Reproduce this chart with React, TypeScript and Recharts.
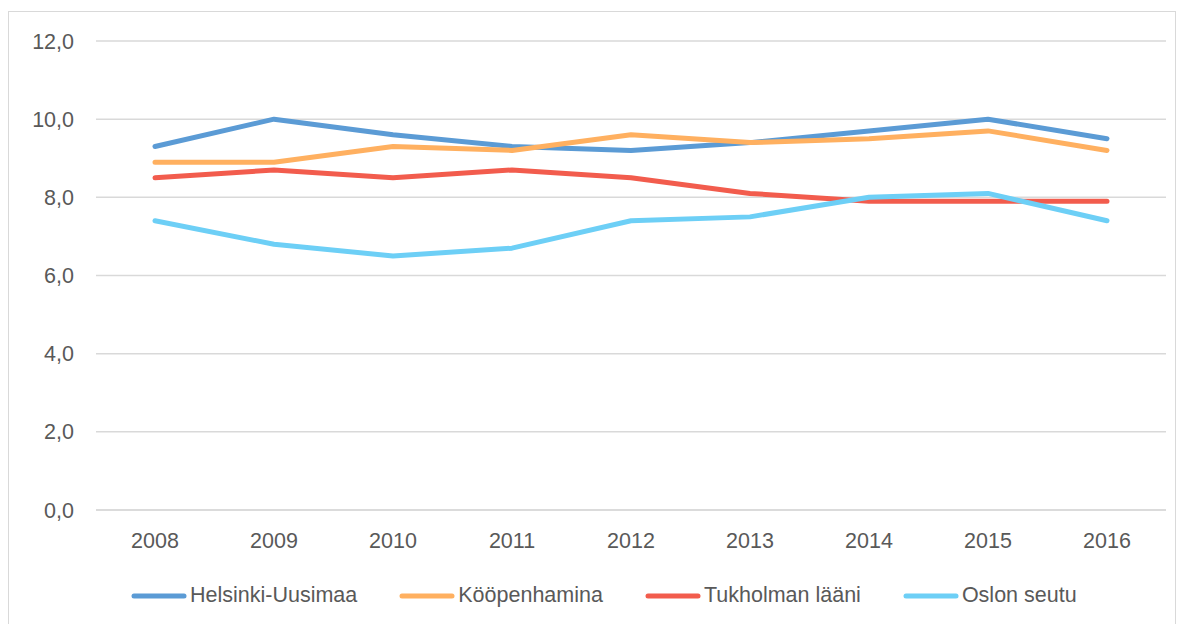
import React from "react";
import { LineChart, Line, XAxis, YAxis, CartesianGrid } from "recharts";

const years = ["2008", "2009", "2010", "2011", "2012", "2013", "2014", "2015", "2016"];
const helsinki = [9.3, 10.0, 9.6, 9.3, 9.2, 9.4, 9.7, 10.0, 9.5];
const kopenhamina = [8.9, 8.9, 9.3, 9.2, 9.6, 9.4, 9.5, 9.7, 9.2];
const tukholma = [8.5, 8.7, 8.5, 8.7, 8.5, 8.1, 7.9, 7.9, 7.9];
const oslo = [7.4, 6.8, 6.5, 6.7, 7.4, 7.5, 8.0, 8.1, 7.4];
const yTicks = [0, 2, 4, 6, 8, 10, 12];

const seriesNames = ["Helsinki-Uusimaa", "Kööpenhamina", "Tukholman lääni", "Oslon seutu"];
const colors = ["#5B9BD5", "#FFB060", "#F25C4D", "#6DCFF6"];

const data = years.map((y, i) => ({
  year: y,
  s0: helsinki[i],
  s1: kopenhamina[i],
  s2: tukholma[i],
  s3: oslo[i],
}));

const FONT = "'Liberation Sans', Arial, sans-serif";
const TEXT = "#595959";
const FS = 21.5;

const LegendBlock = () => (
  <div
    style={{
      position: "absolute",
      top: 571,
      left: 122,
      display: "flex",
      alignItems: "center",
      fontFamily: FONT,
      fontSize: FS,
      color: TEXT,
      whiteSpace: "nowrap",
    }}
  >
    {seriesNames.map((n, i) => (
      <div key={n} style={{ display: "flex", alignItems: "center", marginRight: 42 }}>
        <svg width={56} height={8} style={{ display: "block", marginRight: 3 }}>
          <line x1={3} y1={4} x2={53} y2={4} stroke={colors[i]} strokeWidth={5} strokeLinecap="round" />
        </svg>
        <span>{n}</span>
      </div>
    ))}
  </div>
);

export default function App() {
  return (
    <div
      style={{
        width: 1166,
        height: 612,
        marginTop: 3,
        border: "1px solid #d9d9d9",
        background: "#fff",
        position: "relative",
      }}
    >
      <LineChart width={1166} height={612} data={data} margin={{ top: 29, right: 9, bottom: 84, left: 27 }}>
        <CartesianGrid vertical={false} stroke="#d9d9d9" strokeWidth={1.5} />
        <XAxis
          dataKey="year"
          axisLine={{ stroke: "#d9d9d9", strokeWidth: 1.5 }}
          tickLine={false}
          padding={{ left: 59, right: 59 }}
          tick={{ fill: TEXT, fontSize: FS, fontFamily: FONT }}
          tickMargin={17}
          interval={0}
        />
        <YAxis
          domain={[0, 12]}
          ticks={yTicks}
          axisLine={false}
          tickLine={false}
          width={60}
          tick={{ fill: TEXT, fontSize: FS, fontFamily: FONT }}
          tickMargin={16}
          tickFormatter={(v: number) => v.toFixed(1).replace(".", ",")}
        />
        {["s0", "s1", "s2", "s3"].map((k, i) => (
          <Line
            key={k}
            dataKey={k}
            name={seriesNames[i]}
            stroke={colors[i]}
            strokeWidth={5}
            dot={false}
            strokeLinecap="round"
            strokeLinejoin="round"
            isAnimationActive={false}
          />
        ))}
      </LineChart>
      <LegendBlock />
    </div>
  );
}
